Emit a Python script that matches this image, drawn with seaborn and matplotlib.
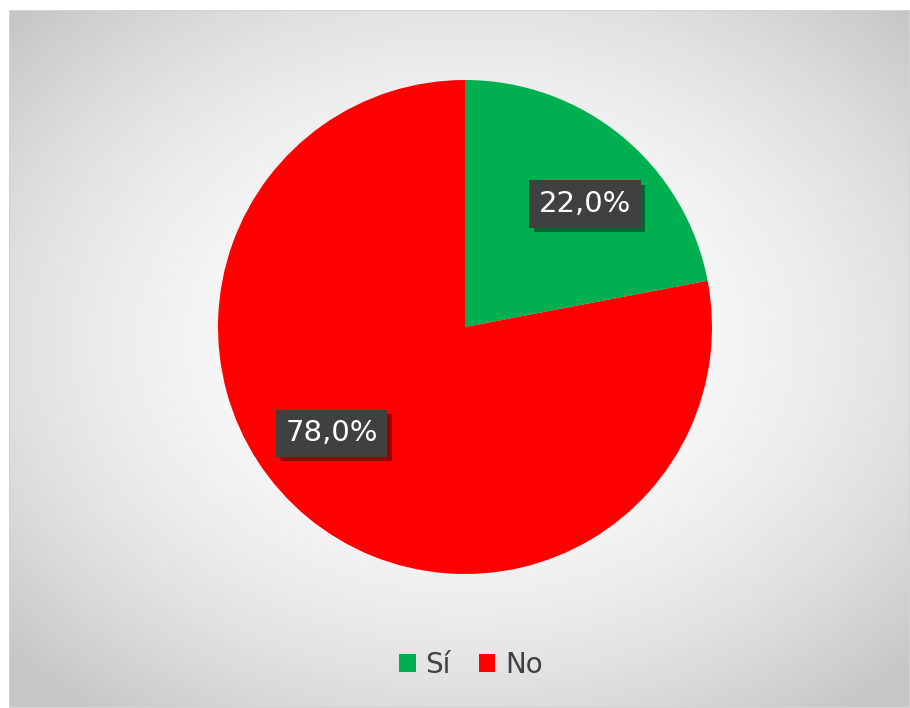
import numpy as np
import seaborn as sns
import matplotlib.pyplot as plt
import matplotlib.patheffects as pe
from matplotlib.patches import Patch, Rectangle

sns.set_theme(style="white")
plt.rcParams["font.family"] = ["DejaVu Sans"]

# data
categories = ["Sí", "No"]
shares = [22.0, 78.0]
colors = ["#00B050", "#FF0000"]

W, H = 910, 708
fig = plt.figure(figsize=(W / 100, H / 100), dpi=100)
fig.patch.set_facecolor("white")

# radial grey background of the chart area
bg = fig.add_axes([9 / W, 0, (W - 9) / W, (H - 10) / H])
bg.set_axis_off()
yy, xx = np.mgrid[0:698, 0:901]
d2 = ((xx - 456) / 560.0) ** 2 + ((yy - 330) / 430.0) ** 2
d2 = np.clip(d2, 0, 1.2)
val = 1.0 - 0.185 * d2
bg.imshow(np.dstack([val, val, val]), aspect="auto", extent=(0, 1, 0, 1),
          origin="upper")
bg.add_patch(Rectangle((0, 0), 1, 1, transform=bg.transAxes, fill=False,
                       edgecolor="#d4d4d4", lw=1.5, zorder=5))
bg.set_xlim(0, 1)
bg.set_ylim(0, 1)

# pie
cx, cy, r = 465, 327, 247
ax = fig.add_axes([(cx - r) / W, (H - cy - r) / H, 2 * r / W, 2 * r / H])
ax.set_axis_off()
wedges, _ = ax.pie(shares, colors=colors, startangle=90, counterclock=False,
                   radius=1.0, wedgeprops=dict(linewidth=0))
ax.set_xlim(-1, 1)
ax.set_ylim(-1, 1)

# label anchors (in pie radius units)
label_pos = [(0.487, 0.498), (-0.540, -0.430)]
shadow = [pe.withSimplePatchShadow(offset=(3, -3), shadow_rgbFace="black", alpha=0.4)]
for (x, y), v in zip(label_pos, shares):
    t = ax.text(x, y, f"{v:.1f}%".replace(".", ","), ha="center", va="center",
                color="white", fontsize=21,
                bbox=dict(boxstyle="square,pad=0.33", facecolor="#404040",
                          edgecolor="none"))
    t.get_bbox_patch().set_path_effects(shadow)

handles = [Patch(facecolor=c, edgecolor="none") for c in colors]
fig.legend(handles, categories, loc="center", bbox_to_anchor=(471 / W, 1 - 665 / H),
           ncol=2, frameon=False, fontsize=20, labelcolor="#404040",
           handlelength=0.6, handleheight=0.6, handletextpad=0.35,
           columnspacing=1.0)

fig.savefig("out.png", dpi=100)
